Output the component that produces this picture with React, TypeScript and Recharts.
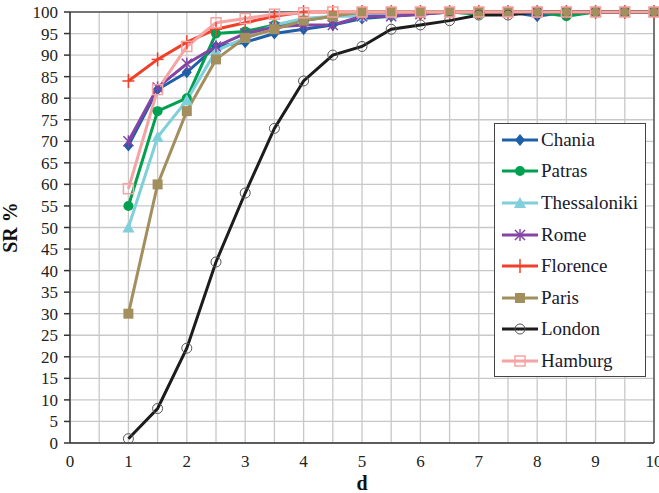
import React from 'react';
import { LineChart, Line, XAxis, YAxis, CartesianGrid, Legend, ReferenceLine, Label } from 'recharts';

const dValues = [1, 1.5, 2, 2.5, 3, 3.5, 4, 4.5, 5, 5.5, 6, 6.5, 7, 7.5, 8, 8.5, 9, 9.5, 10];
const chania = [69, 82, 86, 92, 93, 95, 96, 97, 98.5, 99, 99.5, 100, 100, 100, 99, 100, 100, 100, 100];
const patras = [55, 77, 80, 95, 95.5, 97, 98, 99, 100, 100, 100, 100, 99.5, 100, 100, 99, 100, 100, 100];
const thessaloniki = [50, 71, 79.5, 91, 94, 97, 98.5, 99, 99, 99.5, 100, 100, 100, 100, 100, 100, 100, 100, 100];
const rome = [70, 82.5, 88, 92, 95, 96.5, 97, 97, 99, 99, 99.5, 100, 100, 100, 100, 100, 100, 100, 100];
const florence = [84, 89, 93, 96, 97.5, 99, 100, 100, 100, 100, 100, 100, 100, 100, 100, 100, 100, 100, 100];
const paris = [30, 60, 77, 89, 94, 96, 98, 99, 100, 100, 100, 100, 100, 100, 100, 100, 100, 100, 100];
const london = [1, 8, 22, 42, 58, 73, 84, 90, 92, 96, 97, 98, 99.3, 99.3, 100, 100, 100, 100, 100];
const hamburg = [59, 82, 92, 97.5, 98.5, 99.5, 99.8, 100, 100, 100, 100, 100, 100, 100, 100, 100, 100, 100, 100];

const xTicks = [0, 0.5, 1, 1.5, 2, 2.5, 3, 3.5, 4, 4.5, 5, 5.5, 6, 6.5, 7, 7.5, 8, 8.5, 9, 9.5, 10];
const yTicks = [0, 5, 10, 15, 20, 25, 30, 35, 40, 45, 50, 55, 60, 65, 70, 75, 80, 85, 90, 95, 100];

const SERIES = [
  { key: 'Chania', values: chania, color: '#1f5fa8', marker: 'diamond' },
  { key: 'Patras', values: patras, color: '#00a050', marker: 'circle' },
  { key: 'Thessaloniki', values: thessaloniki, color: '#7fd0da', marker: 'triangle' },
  { key: 'Rome', values: rome, color: '#8444a4', marker: 'star' },
  { key: 'Florence', values: florence, color: '#f0402a', marker: 'plus' },
  { key: 'Paris', values: paris, color: '#a38e5e', marker: 'square' },
  { key: 'London', values: london, color: '#1c1c1c', marker: 'ring' },
  { key: 'Hamburg', values: hamburg, color: '#f5a3a3', marker: 'openSquare' },
];

const data = dValues.map((d, i) => {
  const row: Record<string, number> = { d };
  SERIES.forEach(s => { row[s.key] = s.values[i]; });
  return row;
});

const FONT = 'Liberation Serif';

function Marker({ cx, cy, kind, color }: { cx: number; cy: number; kind: string; color: string }) {
  if (cx == null || cy == null) return null;
  switch (kind) {
    case 'diamond':
      return <polygon points={`${cx},${cy - 6} ${cx + 5},${cy} ${cx},${cy + 6} ${cx - 5},${cy}`} fill={color} />;
    case 'circle':
      return <circle cx={cx} cy={cy} r={5} fill={color} />;
    case 'triangle':
      return <polygon points={`${cx},${cy - 6} ${cx + 6},${cy + 5} ${cx - 6},${cy + 5}`} fill={color} />;
    case 'star':
      return (
        <g stroke={color} strokeWidth={1.5}>
          <line x1={cx - 5} y1={cy - 5} x2={cx + 5} y2={cy + 5} />
          <line x1={cx - 5} y1={cy + 5} x2={cx + 5} y2={cy - 5} />
          <line x1={cx} y1={cy - 6} x2={cx} y2={cy + 6} />
        </g>
      );
    case 'plus':
      return (
        <g stroke={color} strokeWidth={1.5}>
          <line x1={cx - 6} y1={cy} x2={cx + 6} y2={cy} />
          <line x1={cx} y1={cy - 7} x2={cx} y2={cy + 7} />
        </g>
      );
    case 'square':
      return <rect x={cx - 5} y={cy - 5} width={10} height={10} fill={color} />;
    case 'ring':
      return <circle cx={cx} cy={cy} r={5} fill="none" stroke="#555" strokeWidth={1} />;
    case 'openSquare':
      return <rect x={cx - 5} y={cy - 5} width={10} height={10} fill="none" stroke={color} strokeWidth={1.5} />;
    default:
      return null;
  }
}

// tick text drawn by hand so the serif font sticks
const XTick = ({ x, y, payload }: any) => {
  const v = payload.value;
  if (!Number.isInteger(v)) return null;
  return (
    <text x={x} y={y + 22} textAnchor="middle" style={{ fontFamily: FONT, fontSize: 17, fill: '#222' }}>
      {v}
    </text>
  );
};

const YTick = ({ x, y, payload }: any) => (
  <text x={x - 2} y={y + 6} textAnchor="end" style={{ fontFamily: FONT, fontSize: 17, fill: '#222' }}>
    {payload.value}
  </text>
);

const renderLegend = () => (
  <div style={{ border: '1.5px solid #444', background: '#fff', width: 152, height: 254, boxSizing: 'border-box', padding: '0 0 0 6px' }}>
    {SERIES.map(s => (
      <div key={s.key} style={{ display: 'flex', alignItems: 'center', height: 31.6 }}>
        <svg width={38} height={16} style={{ marginRight: 2 }}>
          <line x1={1} y1={8} x2={37} y2={8} stroke={s.color} strokeWidth={3} />
          <Marker cx={19} cy={8} kind={s.marker} color={s.color} />
        </svg>
        <span style={{ fontFamily: FONT, fontSize: 19, color: '#1a1a2e' }}>{s.key}</span>
      </div>
    ))}
  </div>
);

export default function App() {
  return (
    <div style={{ position: 'absolute', left: 0, top: 0, background: '#fff', fontFamily: FONT }}>
      <LineChart width={659} height={493} data={data} margin={{ top: 12, right: 5, left: 0, bottom: 0 }}>
        <CartesianGrid stroke="#c8c8c8" strokeWidth={1.3} />
        <XAxis
          dataKey="d"
          type="number"
          domain={[0, 10]}
          ticks={xTicks}
          interval={0}
          tickSize={0}
          height={50}
          stroke="#333"
          strokeWidth={1.5}
          tick={<XTick />}
        >
          <Label value="d" position="insideBottom" offset={3} style={{ fontFamily: FONT, fontSize: 20, fontWeight: 'bold', fill: '#111' }} />
        </XAxis>
        <YAxis
          type="number"
          domain={[0, 100]}
          ticks={yTicks}
          interval={0}
          width={70}
          tickSize={6}
          tickMargin={4}
          stroke="#333"
          strokeWidth={1.5}
          tick={<YTick />}
        >
          <Label value="SR %" angle={-90} position="insideLeft" offset={10} style={{ fontFamily: FONT, fontSize: 20, fontWeight: 'bold', fill: '#111', textAnchor: 'middle' }} />
        </YAxis>
        <ReferenceLine y={100} stroke="#555" strokeWidth={1.5} />
        <ReferenceLine x={10} stroke="#555" strokeWidth={1.5} />
        {SERIES.map(s => (
          <Line
            key={s.key}
            dataKey={s.key}
            stroke={s.color}
            strokeWidth={3}
            isAnimationActive={false}
            dot={(p: any) => <Marker key={`${s.key}-${p.index}`} cx={p.cx} cy={p.cy} kind={s.marker} color={s.color} />}
            activeDot={false}
          />
        ))}
        <Legend
          layout="vertical"
          align="center"
          verticalAlign="middle"
          content={renderLegend}
          wrapperStyle={{ position: 'absolute', left: 494, top: 123, width: 152, height: 254 }}
        />
      </LineChart>
    </div>
  );
}
